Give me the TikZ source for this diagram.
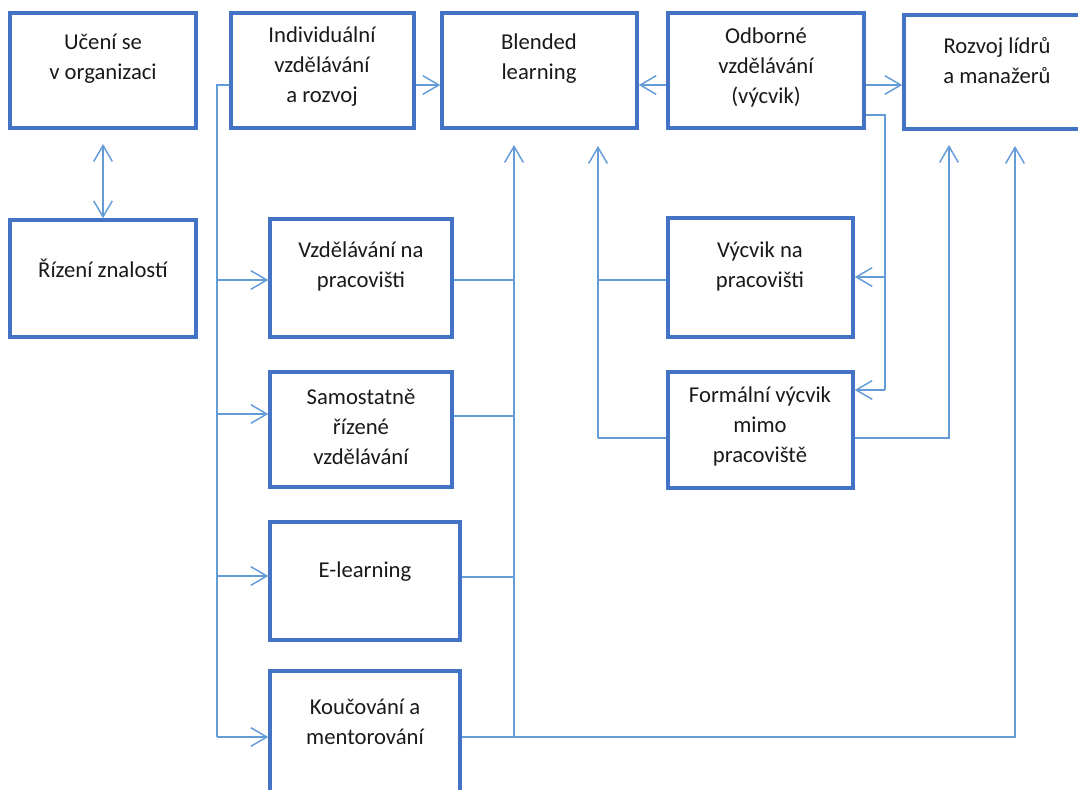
\documentclass[tikz,border=0pt]{standalone}
\usepackage{fontspec}
\setmainfont{Carlito}
\usetikzlibrary{arrows.meta,fit,calc}
\definecolor{boxblue}{RGB}{68,114,196}
\definecolor{lineblue}{RGB}{100,156,216}
\definecolor{txtc}{RGB}{25,25,25}
\begin{document}
\begin{tikzpicture}[x=0.75pt,y=-0.75pt,
  box/.style={draw=boxblue,line width=2.6pt,inner sep=0pt,rectangle},
  txt/.style={align=center,text=txtc,font=\fontsize{17}{22.5}\selectfont,inner sep=0pt},
  conn/.style={draw=lineblue,line width=1.1pt},
  arr/.style={conn,-{Straight Barb[length=12pt,width=14pt,line width=1.1pt]}},
  darr/.style={conn,{Straight Barb[length=12pt,width=14pt,line width=1.1pt]}-{Straight Barb[length=12pt,width=14pt,line width=1.1pt]}}]
\useasboundingbox (0,0) rectangle (1078,789);
% boxes
\node[box,fit={(10,13) (196,128)}] (ucen) {};
\node[box,fit={(231,13) (414,128)}] (indiv) {};
\node[box,fit={(442,13) (637,128)}] (blend) {};
\node[box,fit={(668,13) (864,128)}] (odb) {};
\node[box,fit={(904,15) (1090,129)}] (rozv) {};
\node[box,fit={(10,220) (196,337)}] (rizen) {};
\node[box,fit={(270,219) (452,337)}] (vzdel) {};
\node[box,fit={(270,372) (452,487)}] (samo) {};
\node[box,fit={(270,522) (460,640)}] (elearn) {};
\node[box,fit={(270,671) (460,810)}] (kouc) {};
\node[box,fit={(668,218) (853,337)}] (vycvik) {};
\node[box,fit={(668,372) (853,488)}] (formal) {};
% texts
\node[txt] (ucenT) at (103,59) {Učení se\\v organizaci};
\node[txt] (indivT) at (322,67) {Individuální\\vzdělávání\\a rozvoj};
\node[txt] (blendT) at (539,59) {Blended\\learning};
\node[txt] (odbT) at (766,67) {Odborné\\vzdělávání\\(výcvik)};
\node[txt] (rozvT) at (997,61) {Rozvoj lídrů\\a manažerů};
\node[txt] (rizenT) at (103,268) {Řízení znalostí};
\node[txt] (vzdelT) at (361,266) {Vzdělávání na\\pracovišti};
\node[txt] (samoT) at (361,427) {Samostatně\\řízené\\vzdělávání};
\node[txt] (elearnT) at (365,572) {E-learning};
\node[txt] (koucT) at (365,722) {Koučování a\\mentorování};
\node[txt] (vycvikT) at (760,266) {Výcvik na\\pracovišti};
\node[txt] (formalT) at (760,426) {Formální výcvik\\mimo\\pracoviště};
% bend coordinates
\coordinate (L0) at (217,85);
\coordinate (L1) at (217,280);
\coordinate (L2) at (217,414);
\coordinate (L3) at (217,576);
\coordinate (L4) at (217,737);
\coordinate (R1) at (514,280);
\coordinate (R2) at (514,416);
\coordinate (R3) at (514,577);
\coordinate (R4) at (514,737);
\coordinate (R0) at (514,145);
\coordinate (K1) at (1015,737);
\coordinate (K0) at (1015,146);
\coordinate (P0) at (885,115);
\coordinate (P1) at (885,277);
\coordinate (P2) at (885,390);
\coordinate (V1) at (598,280);
\coordinate (V2) at (598,438);
\coordinate (V0) at (598,146);
\coordinate (F1) at (949,438);
\coordinate (F0) at (949,145);
\coordinate (U0) at (103,144);
% connectors
\draw[darr] (U0) -- (rizen.north -| U0);
\draw[conn] (indiv.west |- L0) -- (L0) -- (L4);
\draw[arr] (L1) -- (vzdel.west |- L1);
\draw[arr] (L2) -- (samo.west |- L2);
\draw[arr] (L3) -- (elearn.west |- L3);
\draw[arr] (L4) -- (kouc.west |- L4);
\draw[arr] (indiv.east |- L0) -- (blend.west |- L0);
\draw[conn] (vzdel.east |- R1) -- (R1);
\draw[conn] (samo.east |- R2) -- (R2);
\draw[conn] (elearn.east |- R3) -- (R3);
\draw[conn] (kouc.east |- R4) -- (R4);
\draw[arr] (R4) -- (R0);
\draw[arr] (R4) -- (K1) -- (K0);
\draw[arr] (odb.west |- L0) -- (blend.east |- L0);
\draw[arr] (odb.east |- L0) -- (rozv.west |- L0);
\draw[conn] (odb.east |- P0) -- (P0) -- (P2);
\draw[arr] (P1) -- (vycvik.east |- P1);
\draw[arr] (P2) -- (formal.east |- P2);
\draw[conn] (vycvik.west |- V1) -- (V1);
\draw[conn] (formal.west |- V2) -- (V2);
\draw[arr] (V2) -- (V0);
\draw[arr] (formal.east |- F1) -- (F1) -- (F0);
\end{tikzpicture}
\end{document}
